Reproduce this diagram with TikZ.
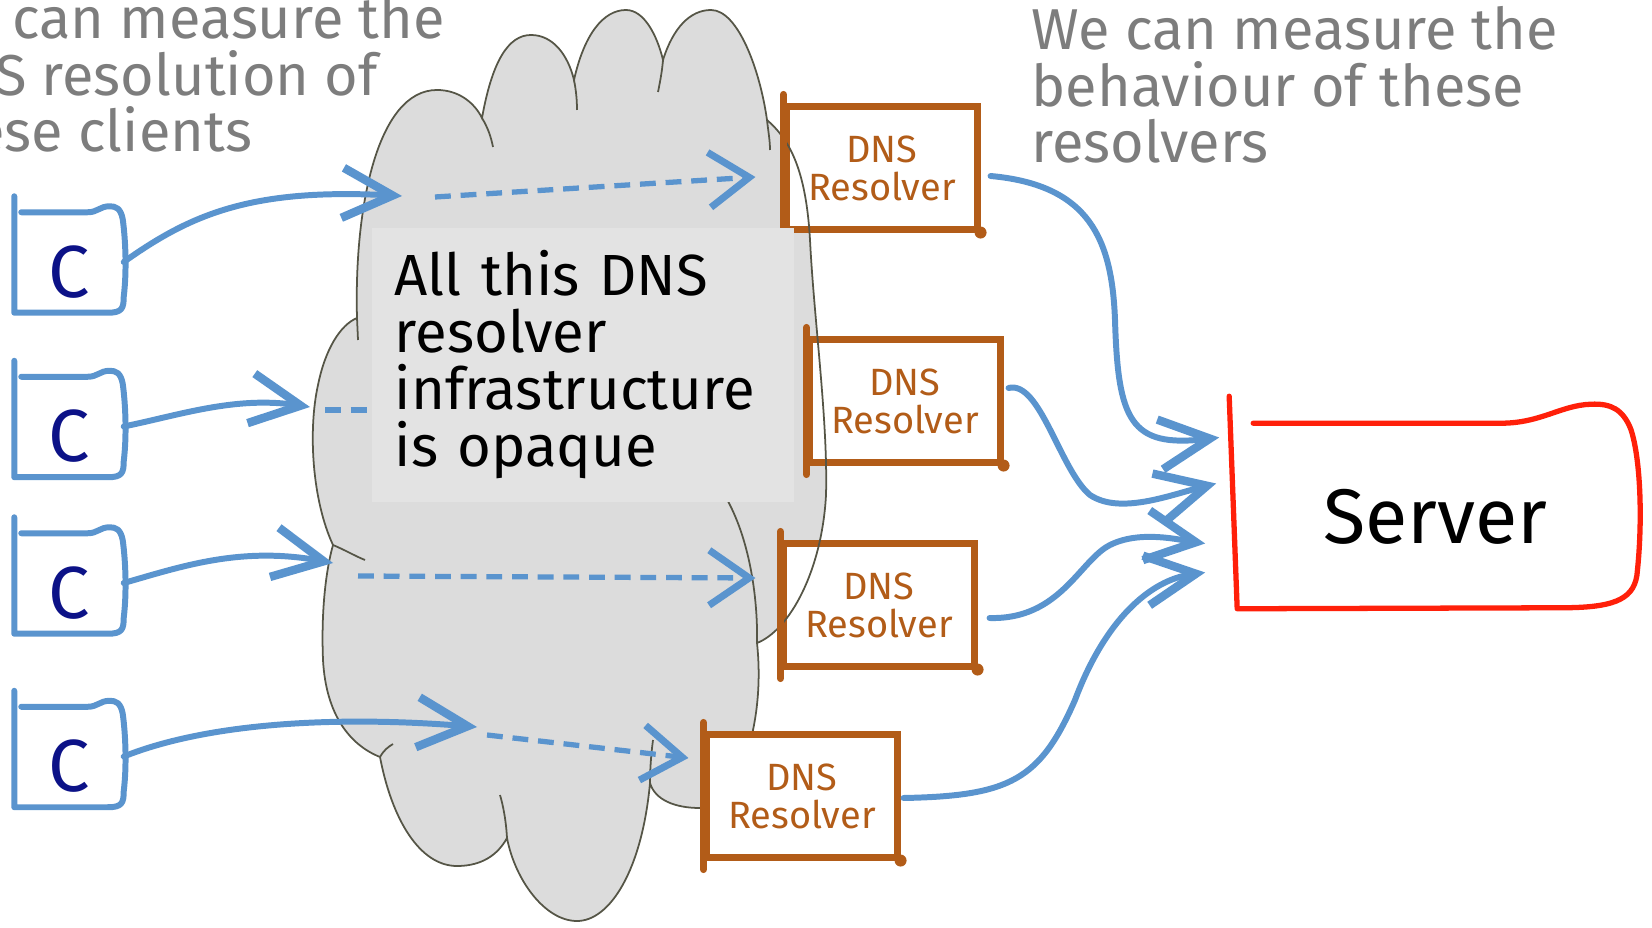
\documentclass[tikz,border=0pt]{standalone}
\usepackage{fontspec}
\setmainfont{Fira Sans}
\usepackage{tikz}
\usetikzlibrary{positioning,calc,arrows.meta}

\definecolor{flowblue}{RGB}{90,148,206}
\definecolor{clientink}{RGB}{12,18,135}
\definecolor{resbrown}{RGB}{178,92,24}
\definecolor{srvred}{RGB}{255,32,10}
\definecolor{notegray}{RGB}{125,125,125}
\definecolor{cloudfill}{RGB}{220,220,220}
\definecolor{cloudedge}{RGB}{85,85,70}
\definecolor{opaquefill}{RGB}{227,227,227}

% outline of the resolver cloud (pixel units)
\newcommand{\netcloud}{(357,318)
    .. controls (354,205) and (378,90) .. (437,90)
    .. controls (458,90) and (474,102) .. (482,118)
    .. controls (492,62) and (508,35) .. (531,35)
    .. controls (553,35) and (568,55) .. (574,80)
    .. controls (584,35) and (603,10) .. (626,10)
    .. controls (644,10) and (657,35) .. (663,60)
    .. controls (673,28) and (690,10) .. (711,10)
    .. controls (738,10) and (760,70) .. (767,120)
    .. controls (790,140) and (806,170) .. (810,240)
    .. controls (814,320) and (828,420) .. (826,495)
    .. controls (822,570) and (790,630) .. (757,643)
    .. controls (762,690) and (755,730) .. (745,760)
    .. controls (735,795) and (715,808) .. (700,808)
    .. controls (675,808) and (655,800) .. (650,783)
    .. controls (642,870) and (610,921) .. (577,921)
    .. controls (545,921) and (515,880) .. (507,838)
    .. controls (495,860) and (475,866) .. (457,866)
    .. controls (420,866) and (392,820) .. (380,757)
    .. controls (350,745) and (326,715) .. (323,660)
    .. controls (321,610) and (326,570) .. (333,545)
    .. controls (312,500) and (308,430) .. (318,385)
    .. controls (325,350) and (340,325) .. (357,318) -- cycle}

\begin{document}
\begin{tikzpicture}[x=0.01cm, y=-0.01cm, node distance=0.6cm,
        client/.style={minimum width=1.08cm, minimum height=1cm, inner sep=0pt, text height=0.71cm, text=clientink, font=\fontsize{21}{21}\selectfont},
        clientline/.style={draw=flowblue, line width=1.7pt, line cap=round, line join=round},
        resolver/.style={draw=resbrown, fill=white, line width=2pt, minimum width=1.9cm, minimum height=1.22cm, inner sep=0pt, align=center, text=resbrown, font=\fontsize{10.8}{10.8}\selectfont},
        resline/.style={draw=resbrown, line width=2pt, line cap=round},
        server/.style={minimum width=4.1cm, minimum height=2.13cm, inner sep=0pt, text height=0.8cm, font=\fontsize{22}{22}\selectfont},
        srvline/.style={draw=srvred, line width=1.5pt, line cap=round, line join=round},
        cloudline/.style={draw=cloudedge, line width=0.5pt},
        flow/.style={draw=flowblue, line width=1.7pt, line cap=round, -{Straight Barb[length=5mm, width=5mm, line width=2.4pt]}},
        hopline/.style={draw=flowblue, line width=1.5pt, dash pattern=on 4.5pt off 2.8pt},
        hop/.style={hopline, -{Straight Barb[length=4mm, width=5.5mm, line width=2pt]}},
        infobox/.style={fill=opaquefill, text width=3.76cm, inner sep=0.23cm, align=left, font=\fontsize{16.5}{16.2}\selectfont},
        note/.style={text=notegray, inner sep=0pt, align=left, font=\fontsize{16.4}{16}\selectfont}
    ]
    \useasboundingbox (0,0) rectangle (1652,928);
    \clip (0,0) rectangle (1652,928);

    % the cloud of resolvers
    \fill[cloudfill] \netcloud;

    \node [resolver] (r1) at (882,168) {DNS\\Resolver};
    \node [resolver] (r2) at (905,401) {DNS\\Resolver};
    \node [resolver] (r3) at (879,605) {DNS\\Resolver};

    \draw[cloudline] \netcloud;
    % lobe edges running on inside the cloud
    \draw[cloudline] (482,118) .. controls (488,128) and (491,137) .. (493,147);
    \draw[cloudline] (574,80) .. controls (576,90) and (577,100) .. (577,110);
    \draw[cloudline] (663,60) .. controls (662,72) and (660,82) .. (658,92);
    \draw[cloudline] (767,120) .. controls (768,130) and (770,140) .. (770,150);
    \draw[cloudline] (357,318) -- (358,340);
    \draw[cloudline] (333,545) .. controls (345,550) and (355,556) .. (365,560);
    \draw[cloudline] (380,757) .. controls (384,750) and (388,747) .. (393,744);
    \draw[cloudline] (507,838) .. controls (506,820) and (503,805) .. (500,795);
    \draw[cloudline] (650,783) .. controls (650,770) and (651,755) .. (653,740);
    \draw[cloudline] (757,643) .. controls (758,600) and (750,530) .. (718,485);

    \node [resolver] (r4) at (802,796) {DNS\\Resolver};
    \foreach \r in {r1,r2,r3,r4} {
        \draw[resline] ($(\r.north west)+(0,-9)$) -- ($(\r.south west)+(0,9)$);
        \fill[resbrown] (\r.south east) circle (0.6mm);
    }

    % clients
    \node [client] (c1) at (69,262) {C};
    \node [client, below=0.63cm of c1] (c2) {C};
    \node [client, below=0.55cm of c2] (c3) {C};
    \node [client, below=0.72cm of c3] (c4) {C};
    \foreach \c in {c1,c2,c3,c4}
        \draw[clientline] ($(\c.north west)+(0,-15)$) -- (\c.south west)
            -- ($(\c.south east)+(-16,0)$)
            .. controls ($(\c.south east)+(-2,0)$) and ($(\c.south east)+(0,-4)$) .. ($(\c.south east)+(0,-16)$)
            .. controls ($(\c.east)+(3,10)$) and ($(\c.north east)+(2,30)$) .. ($(\c.north east)+(-1,8)$)
            .. controls ($(\c.north east)+(-3,-3)$) and ($(\c.north east)+(-8,-5)$) .. ($(\c.north east)+(-14,-5)$)
            .. controls ($(\c.north east)+(-24,-5)$) and ($(\c.north east)+(-26,1)$) .. ($(\c.north east)+(-36,1)$)
            -- ($(\c.north west)+(7,1)$);

    % server
    \node [server] (server) at (1435,503.5) {Server};
    \draw[srvline] (server.north west) -- ($(server.south west)+(8,-2)$)
        -- ($(server.south east)+(-80,-3)$)
        .. controls ($(server.south east)+(-30,-3)$) and ($(server.south east)+(-8,-10)$) .. ($(server.south east)+(-4,-35)$)
        .. controls ($(server.east)+(2,20)$) and ($(server.north east)+(0,63)$) .. ($(server.north east)+(-10,33)$)
        .. controls ($(server.north east)+(-18,13)$) and ($(server.north east)+(-30,7)$) .. ($(server.north east)+(-50,8)$)
        .. controls ($(server.north east)+(-80,9)$) and ($(server.north east)+(-100,27)$) .. ($(server.north east)+(-140,27)$)
        -- ($(server.north west)+(24,27)$);

    % where the queries enter and cross the cloud
    \coordinate (in1) at (402,196);
    \coordinate (in2) at (310,407);
    \coordinate (in3) at (333,563);
    \coordinate (in4) at (477,727);
    \coordinate (out1) at (435,197);
    \coordinate (out2) at (325,410);
    \coordinate (out3) at (358,576);
    \coordinate (out4) at (487,735);
    \coordinate (mid2) at (560,410);

    \draw[flow] (c1.east) .. controls (190,215) and (250,188) .. (in1);
    \draw[flow] (c2.east) .. controls (180,415) and (235,396) .. (in2);
    \draw[flow] (c3.east) .. controls (180,567) and (240,546) .. (in3);
    \draw[flow] (c4.east) .. controls (210,722) and (340,716) .. (in4);

    \draw[hop] (out1) -- ($(r1.west)+(-28,9)$);
    \draw[hopline] (out2) -- (mid2);
    \draw[hop] (out3) -- ($(r3.west)+(-25,-27)$);
    \draw[hop] (out4) -- ($(r4.west)+(-15,-38)$);

    \node [infobox, anchor=north west] (opaque) at (371,227) {All this DNS\\resolver\\infrastructure\\is opaque};

    % resolvers to the server
    \draw[flow] ($(r1.east)+(10,8)$) .. controls (1090,185) and (1112,240) .. (1115,320)
        .. controls (1118,420) and (1130,448) .. ($(server.west)+(-10,-66)$);
    \draw[flow] ($(r2.east)+(5,-13)$) .. controls (1040,380) and (1060,470) .. (1090,495)
        .. controls (1120,515) and (1170,495) .. ($(server.west)+(-13,-20)$);
    \draw[flow] ($(r3.east)+(12,13)$) .. controls (1060,620) and (1080,560) .. (1110,545)
        .. controls (1140,530) and (1180,540) .. ($(server.west)+(-24,40)$);
    \draw[flow] ($(r4.east)+(3,2)$) .. controls (1010,796) and (1040,780) .. (1075,700)
        .. controls (1105,620) and (1150,580) .. ($(server.west)+(-24,69)$);

    \node [note, anchor=north west] (clientnote) at (-82,-5) {We can measure the\\DNS resolution of\\these clients};
    \node [note, anchor=north west] (resolvernote) at (1031,6) {We can measure the\\behaviour of these\\resolvers};
\end{tikzpicture}
\end{document}
